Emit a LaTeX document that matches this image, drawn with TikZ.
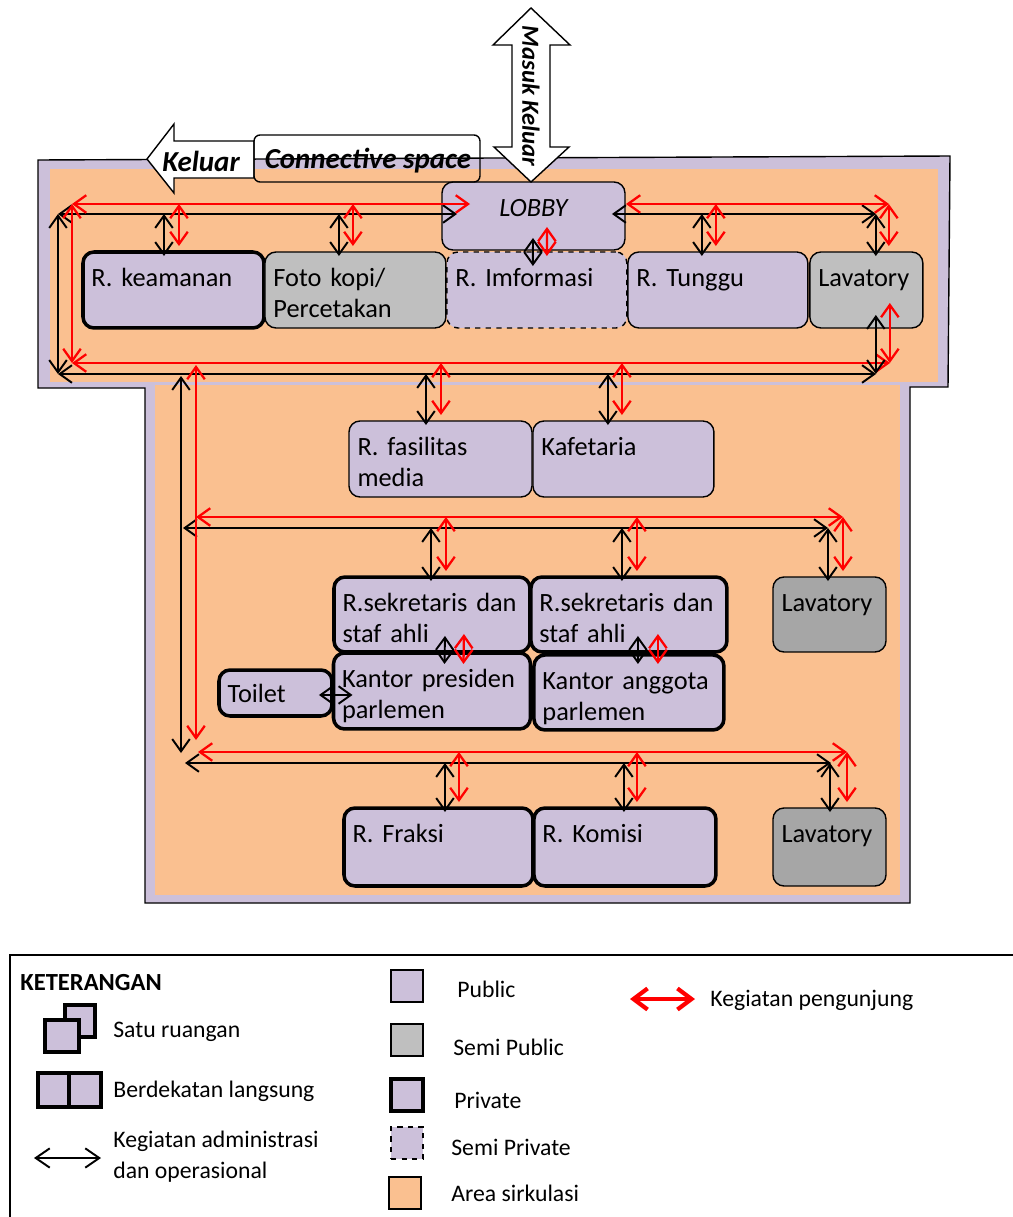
\documentclass[tikz,border=0pt]{standalone}
\usepackage{fontspec}
\setmainfont{Carlito}
\usetikzlibrary{positioning, arrows.meta}
\definecolor{ruangUngu}{HTML}{CCC0DA}
\definecolor{semiAbu}{HTML}{BFBFBF}
\definecolor{semiAbuTua}{HTML}{A6A6A6}
\definecolor{sirkulasi}{HTML}{FAC090}

\begin{document}
\begin{tikzpicture}[x=0.02cm, y=-0.02cm,
  >={Straight Barb[length=7pt,width=10pt]},
  room/.style={draw, line width=0.8pt, rounded corners=0.22cm, fill=ruangUngu,
    anchor=north west, align=left, inner xsep=0.17cm, inner ysep=0pt, outer sep=0pt,
    text height=0.69cm, text depth=0.83cm, font=\fontsize{15}{17.6}\selectfont},
  private/.style={line width=2pt},
  adm/.style={<->, line width=1.1pt},
  vis/.style={<->, draw=red, line width=1.3pt},
  kotak/.style={draw, fill=ruangUngu, line width=0.8pt, inner sep=0pt,
    minimum width=0.64cm, minimum height=0.64cm},
  ket/.style={anchor=west, inner sep=0pt, align=left,
    font=\fontsize{13.5}{17.6}\selectfont}]

\useasboundingbox (0,0) rectangle (1013,1217);

% bangunan + area sirkulasi
\draw[fill=ruangUngu, line width=0.8pt] (38,160) -- (950,156) -- (948,387) -- (910,387)
  -- (910,903) -- (145,903) -- (145,388) -- (38,388) -- cycle;
\fill[sirkulasi] (50,169) rectangle (938,382);
\fill[sirkulasi] (155,385) rectangle (900,895);

% ruang lantai
\node[room, text width=3.32cm, text depth=0.67cm, align=center,
      font=\fontsize{15}{17.6}\selectfont\itshape] (lobby) at (442,182) {LOBBY};
\node[room, private, text width=3.28cm] (keamanan) at (83,252) {R. keamanan};
\node[room, fill=semiAbu, text width=3.28cm, right=0.02cm of keamanan] (fotokopi) {Foto kopi/\\Percetakan};
\node[room, dashed, text width=3.26cm, right=0.02cm of fotokopi] (informasi) {R. Imformasi};
\node[room, text width=3.26cm, right=0.02cm of informasi] (tunggu) {R. Tunggu};
\node[room, fill=semiAbu, text width=1.92cm, right=0.04cm of tunggu] (lavA) {Lavatory};

\node[room, text width=3.32cm] (fasilitas) at (349,421) {R. fasilitas\\media};
\node[room, text width=3.28cm, right=0.02cm of fasilitas] (kafetaria) {Kafetaria};

\node[room, private, text width=3.58cm, text depth=0.81cm] (sek1) at (334,577) {R.sekretaris dan\\staf ahli};
\node[room, private, text width=3.58cm, text depth=0.81cm, right=0.02cm of sek1] (sek2) {R.sekretaris dan\\staf ahli};
\node[room, fill=semiAbuTua, text width=1.92cm, text depth=0.81cm] (lavB) at (773,577) {Lavatory};
\node[room, private, text width=3.60cm, below=0.02cm of sek1] (presiden) {Kantor presiden\\parlemen};
\node[room, private, text width=3.46cm, text depth=0.81cm, below=0.06cm of sek2] (anggota) {Kantor anggota\\parlemen};
\node[room, private, text width=1.92cm, text height=0.64cm, text depth=0.28cm] (toilet) at (219,670) {Toilet};

\node[room, private, text width=3.44cm, text depth=0.87cm] (fraksi) at (344,808) {R. Fraksi};
\node[room, private, text width=3.30cm, text depth=0.87cm, right=0.02cm of fraksi] (komisi) {R. Komisi};
\node[room, fill=semiAbuTua, text width=1.92cm, text depth=0.87cm] (lavC) at (773,808) {Lavatory};

% titik jalur sirkulasi
\coordinate (hA1) at (58,214);  \coordinate (hA2) at (58,374);
\coordinate (hA3) at (876,214); \coordinate (hB2) at (876,374);
\coordinate (mA1) at (72,204);  \coordinate (mA2) at (72,363);
\coordinate (mA3) at (889,204); \coordinate (mB2) at (890,363);
\coordinate (hC1) at (181,376); \coordinate (hC2) at (181,753);
\coordinate (mC1) at (196,365); \coordinate (mC2) at (196,740);
\coordinate (hD1) at (183,528); \coordinate (hD2) at (828,528);
\coordinate (mD1) at (196,517); \coordinate (mD2) at (843,517);
\coordinate (hE1) at (185,763); \coordinate (hE2) at (831,763);
\coordinate (mE1) at (198,752); \coordinate (mE2) at (847,752);

% koridor
\draw[adm] (hA1) -- ([xshift=0.3cm]lobby.west |- hA1);
\draw[adm] ([xshift=-0.26cm]lobby.east |- hA3) -- (hA3);
\draw[adm] (hA1) -- (hA2);
\draw[adm] (hA2) -- (hB2);
\draw[adm] (hC1) -- (hC2);
\draw[adm] (hD1) -- (hD2);
\draw[adm] (hE1) -- (hE2);
\draw[vis] (mA1) -- ([xshift=0.56cm]lobby.west |- mA1);
\draw[vis] ([xshift=0.02cm]lobby.east |- mA3) -- (mA3);
\draw[vis] (mA1) -- (mA2);
\draw[vis] (mA2) -- (mB2);
\draw[vis] (mC1) -- (mC2);
\draw[vis] (mD1) -- (mD2);
\draw[vis] (mE1) -- (mE2);

% koridor ke ruang
\foreach \ru/\dh/\dm/\jh/\jm in {keamanan/-0.19/0.11/hA1/mA1, fotokopi/-0.33/-0.05/hA1/mA1,
    tunggu/-0.32/-0.04/hA1/mA1, lavA/0.19/0.45/hA1/mA1,
    fasilitas/-0.29/0.01/hA2/mA2, kafetaria/-0.31/-0.03/hA2/mA2,
    sek1/-0.02/0.28/hD1/mD1, sek2/-0.14/0.16/hD1/mD1, lavB/-0.03/0.27/hD1/mD1,
    fraksi/0.13/0.41/hE1/mE1, komisi/-0.02/0.24/hE1/mE1, lavC/0.01/0.35/hE1/mE1} {
  \draw[adm] ([xshift=\dh cm]\ru.north |- \jh) -- ([xshift=\dh cm, yshift=-0.08cm]\ru.north);
  \draw[vis] ([xshift=\dm cm]\ru.north |- \jm) -- ([xshift=\dm cm, yshift=0.12cm]\ru.north);
}
\draw[adm] ([xshift=0.19cm, yshift=0.26cm]lavA.south) -- ([xshift=0.19cm]lavA.south |- hA2);
\draw[vis] ([xshift=0.47cm, yshift=0.5cm]lavA.south) -- ([xshift=0.47cm]lavA.south |- mA2);

% antar ruang
\draw[adm] ([xshift=-0.01cm, yshift=0.24cm]lobby.south) -- ([xshift=-0.08cm, yshift=-0.28cm]informasi.north);
\draw[vis] ([xshift=0.27cm, yshift=0.46cm]lobby.south) -- ([xshift=0.2cm, yshift=-0.08cm]informasi.north);
\draw[adm] ([xshift=0.26cm, yshift=0.32cm]sek1.south) -- ([xshift=0.25cm, yshift=-0.22cm]presiden.north);
\draw[vis] ([xshift=0.64cm, yshift=0.36cm]sek1.south) -- ([xshift=0.63cm, yshift=-0.22cm]presiden.north);
\draw[adm] ([xshift=0.18cm, yshift=0.32cm]sek2.south) -- ([xshift=0.18cm, yshift=-0.18cm]anggota.north);
\draw[vis] ([xshift=0.58cm, yshift=0.36cm]sek2.south) -- ([xshift=0.58cm, yshift=-0.18cm]anggota.north);
\draw[adm] ([xshift=-0.26cm, yshift=-0.04cm]toilet.east) -- ([xshift=0.38cm, yshift=-0.08cm]presiden.west);

% pintu keluar / masuk
\draw[fill=white, line width=0.8pt] (147,159) -- (174,124) -- (174,141) -- (254,141)
  -- (254,178) -- (174,178) -- (174,193) -- cycle;
\node[font=\fontsize{16.5}{18}\selectfont\bfseries\itshape] (keluar) at (201,161) {Keluar};
\node[draw, rounded corners=0.12cm, line width=0.8pt, minimum width=4.52cm, minimum height=0.94cm,
      inner sep=0pt] (konektif) at (367,158.5) {};
\node[font=\fontsize{16.5}{18}\selectfont\bfseries\itshape] (konektifTeks) at (368,161) {Connective space};
\draw[fill=white, line width=0.8pt] (531,8) -- (570,45) -- (550,45) -- (550,147) -- (569,147)
  -- (531,182) -- (494,147) -- (512,147) -- (512,45) -- (493,45) -- cycle;
\node[rotate=-90, font=\fontsize{14}{16}\selectfont\bfseries\itshape] (masuk) at (531,96) {Masuk Keluar};

% keterangan
\draw[line width=0.8pt] (10,1217) -- (10,955) -- (1013,955);
\node[anchor=west, inner sep=0pt, font=\fontsize{14}{16}\selectfont\bfseries] (judul) at (20,983) {KETERANGAN};
\node[kotak, private, minimum width=0.6cm] (satuA) at (80,1021) {};
\node[kotak, private, minimum width=0.68cm] (satuB) at (62,1036) {};
\node[ket] (tSatu) at (113,1032) {Satu ruangan};
\node[kotak, private, minimum width=0.62cm, minimum height=0.68cm] (dekatA) at (53.5,1090) {};
\node[kotak, private, minimum width=0.64cm, minimum height=0.68cm] (dekatB) at (85,1090) {};
\node[ket] (tDekat) at (113,1091) {Berdekatan langsung};
\coordinate (admA) at (34,1158);
\coordinate (admB) at (101,1158);
\draw[>={Straight Barb[length=8pt,width=11pt]}, adm] (admA) -- (admB);
\node[ket] (tAdm) at (113,1157) {Kegiatan administrasi\\dan operasional};

\node[kotak] (kPublik) at (407,986) {};
\node[ket] (tPublik) at (457,989) {Public};
\node[kotak, fill=semiAbu] (kSemiPublik) at (407,1040) {};
\node[ket] (tSemiPublik) at (453,1047) {Semi Public};
\node[kotak, private] (kPrivate) at (407,1095) {};
\node[ket] (tPrivate) at (454,1100) {Private};
\node[kotak, dashed] (kSemiPrivate) at (407,1143) {};
\node[ket] (tSemiPrivate) at (451,1147) {Semi Private};
\node[kotak, fill=sirkulasi] (kSirkulasi) at (405,1193) {};
\node[ket] (tSirkulasi) at (451,1193) {Area sirkulasi};

\coordinate (visA) at (630,999);
\coordinate (visB) at (695,999);
\draw[>={Straight Barb[length=8pt,width=12pt]}, vis, line width=2.4pt] (visA) -- (visB);
\node[ket] (tVis) at (710,1000) {Kegiatan pengunjung};

\end{tikzpicture}
\end{document}
